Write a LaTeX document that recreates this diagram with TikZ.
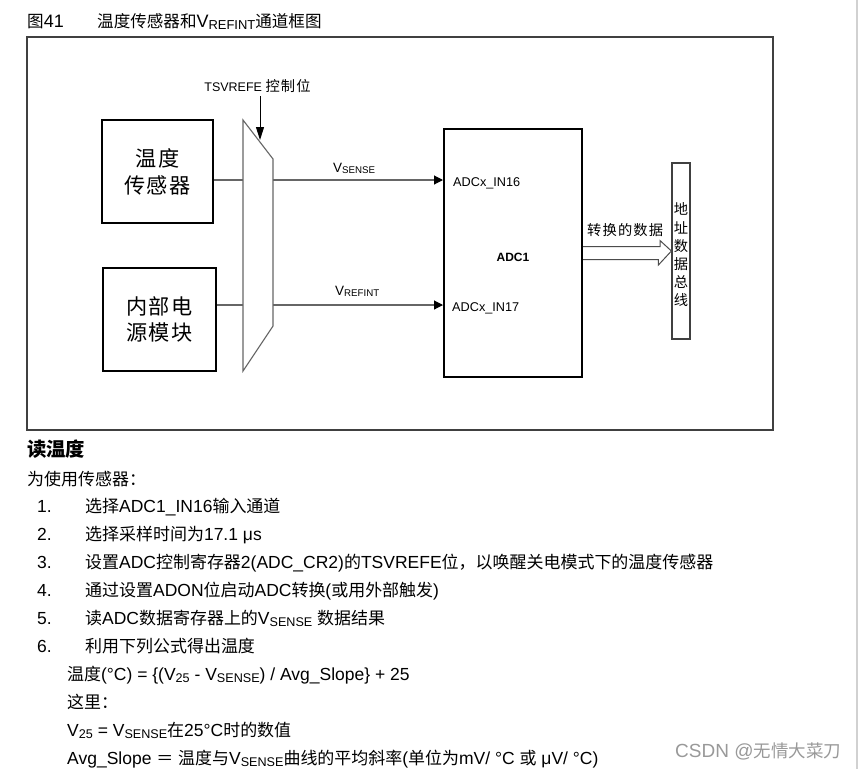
\documentclass[tikz,border=0pt]{standalone}
\usepackage{fontspec}
\usepackage{graphicx}
\setmainfont{Liberation Sans}
\newfontfamily\cjk{Noto Sans CJK SC}[Scale=0.92]
\newfontfamily\cjkbody{Noto Sans CJK SC}[Scale=0.97]
\newfontfamily\cjksp{Noto Sans CJK SC}[Scale=0.92,LetterSpace=8]
\usetikzlibrary{arrows.meta}
\newcommand\C[1]{{\cjk #1}}
\newcommand\B[1]{{\cjkbody #1}}
\newcommand\CS[1]{{\cjksp #1}}
\newcommand\lowsub[1]{\raisebox{-0.14em}{\scalebox{0.72}{#1}}}
\newcommand\fsz[2]{\fontsize{#1}{#2}\selectfont}
\begin{document}
\begin{tikzpicture}[x=1pt,y=-1pt,
  frame/.style={draw=black!75, line width=1.3pt},
  blk/.style={draw=black, line width=2.6pt, inner sep=0pt, align=center},
  wire/.style={draw=black!60, line width=1.1pt},
  arr/.style={wire, -{Triangle[length=9pt,width=9pt,color=black]}},
  ctlarr/.style={draw=black, line width=1pt, -{Triangle[length=13pt,width=8pt]}},
  muxline/.style={draw=black!60, line width=1.1pt},
  dbl/.style={draw=black!70, line width=1pt, line join=miter},
  lbl/.style={inner sep=0pt, anchor=base west},
  txt/.style={inner sep=0pt, anchor=base west, font=\fsz{17.5}{20}},
]
\useasboundingbox (0,0) rectangle (859,769);
\fill[white] (0,0) rectangle (859,769);
\draw[black!18, line width=2pt] (857,0) -- (857,769);

% title
\node[txt, font=\fsz{18}{20}] (fig) at (27,27) {\C{图}41};
\node[txt, font=\fsz{18}{20}] (title) at (97,27) {\C{温度传感器和}V\lowsub{REFINT}\C{通道框图}};

% frame
\draw[frame] (27,37) rectangle (773,430);

% blocks
\node[blk, minimum width=111pt, minimum height=103pt, font=\fsz{23}{27}\cjksp] (ts) at (157.5,171.5) {温度\\传感器};
\node[blk, minimum width=113pt, minimum height=103pt, font=\fsz{23}{26}\cjksp] (ip) at (159.5,319.5) {内部电\\源模块};
\node[draw=black, line width=2pt, minimum width=138pt, minimum height=248pt, inner sep=0pt] (adc) at (513,253) {};
\node[draw=black!75, line width=1.2pt, minimum width=18pt, minimum height=176pt, inner sep=0pt] (bus) at (681,251) {};
\node[inner sep=0pt, align=center, font=\fsz{15.5}{18.2}\cjk] (bustxt) at (681,255) {地\\址\\数\\据\\总\\线};

% mux
\coordinate (m1) at (243,120);
\coordinate (m2) at (273,159);
\coordinate (m3) at (273,326);
\coordinate (m4) at (243,371);
\draw[muxline] (m1) -- (m2) -- (m3) -- (m4) -- cycle;

% wires
\coordinate (s1) at (243,180);
\coordinate (s2) at (273,180);
\coordinate (r1) at (243,305);
\coordinate (r2) at (273,305);
\draw[wire] (ts.east |- s1) -- (s1);
\draw[wire] (ip.east |- r1) -- (r1);
\draw[arr] (s2) -- (adc.west |- s2);
\draw[arr] (r2) -- (adc.west |- r2);

% control
\node[lbl, anchor=base, font=\fsz{12.5}{14}] (tsv) at (257.5,91) {TSVREFE \CS{\fsz{15.5}{16}控制位}};
\coordinate (ctl) at (260,140);
\draw[ctlarr] (tsv.south -| ctl) ++(0,4) -- (ctl);

% labels
\node[lbl, font=\fsz{13.5}{15}] (vs) at (333,172) {V\lowsub{SENSE}};
\node[lbl, font=\fsz{13.5}{15}] (vr) at (335,295) {V\lowsub{REFINT}};
\node[lbl, font=\fsz{12.7}{14}] (in16) at (453,186) {ADCx\_IN16};
\node[lbl, font=\fsz{12.7}{14}] (in17) at (452,311) {ADCx\_IN17};
\node[lbl, anchor=base, font=\fsz{12}{14}\bfseries] (adcname) at (513,261) {ADC1};
\node[lbl, font=\fsz{15.5}{16}\cjksp] (conv) at (587,235) {转换的数据};

% double arrow
\draw[dbl] ([yshift=6.5pt]adc.east) -- ++(77,0) -- ++(0,-6) -- (bus.west) -- ++(-13,14) -- ++(0,-5.5) -- ([yshift=-6.5pt]adc.east);

% text below
\node[txt, font=\fsz{21}{22}\bfseries] (h) at (27,456) {\C{读温度}};
\node[txt] (intro) at (27,485) {\B{为使用传感器：}};
\node[txt] (n1) at (37,512) {1.};
\node[txt] (n2) at (37,540) {2.};
\node[txt] (n3) at (37,568) {3.};
\node[txt] (n4) at (37,596) {4.};
\node[txt] (n5) at (37,624) {5.};
\node[txt] (n6) at (37,652) {6.};
\node[txt] (t1) at (85,512) {\B{选择}ADC1\_IN16\B{输入通道}};
\node[txt] (t2) at (85,540) {\B{选择采样时间为}17.1 μs};
\node[txt] (t3) at (85,568) {\B{设置}ADC\B{控制寄存器}2(ADC\_CR2)\B{的}TSVREFE\B{位，以唤醒关电模式下的温度传感器}};
\node[txt] (t4) at (85,596) {\B{通过设置}ADON\B{位启动}ADC\B{转换}(\B{或用外部触发})};
\node[txt] (t5) at (85,624) {\B{读}ADC\B{数据寄存器上的}V\lowsub{SENSE} \B{数据结果}};
\node[txt] (t6) at (85,652) {\B{利用下列公式得出温度}};
\node[txt] (f1) at (67,680) {\B{温度}(°C) = \{(V\lowsub{25} - V\lowsub{SENSE}) / Avg\_Slope\} + 25};
\node[txt] (f2) at (67,708) {\B{这里：}};
\node[txt] (f3) at (67,736) {V\lowsub{25} = V\lowsub{SENSE}\B{在}25°C\B{时的数值}};
\node[txt] (f4) at (67,764) {Avg\_Slope \B{＝} \B{温度与}V\lowsub{SENSE}\B{曲线的平均斜率}(\B{单位为}mV/ °C \B{或} μV/ °C)};

% watermark
\node[txt, font=\fsz{19}{20}, text=black!40] (wm) at (675,757) {CSDN @\C{无情大菜刀}};
\end{tikzpicture}
\end{document}
